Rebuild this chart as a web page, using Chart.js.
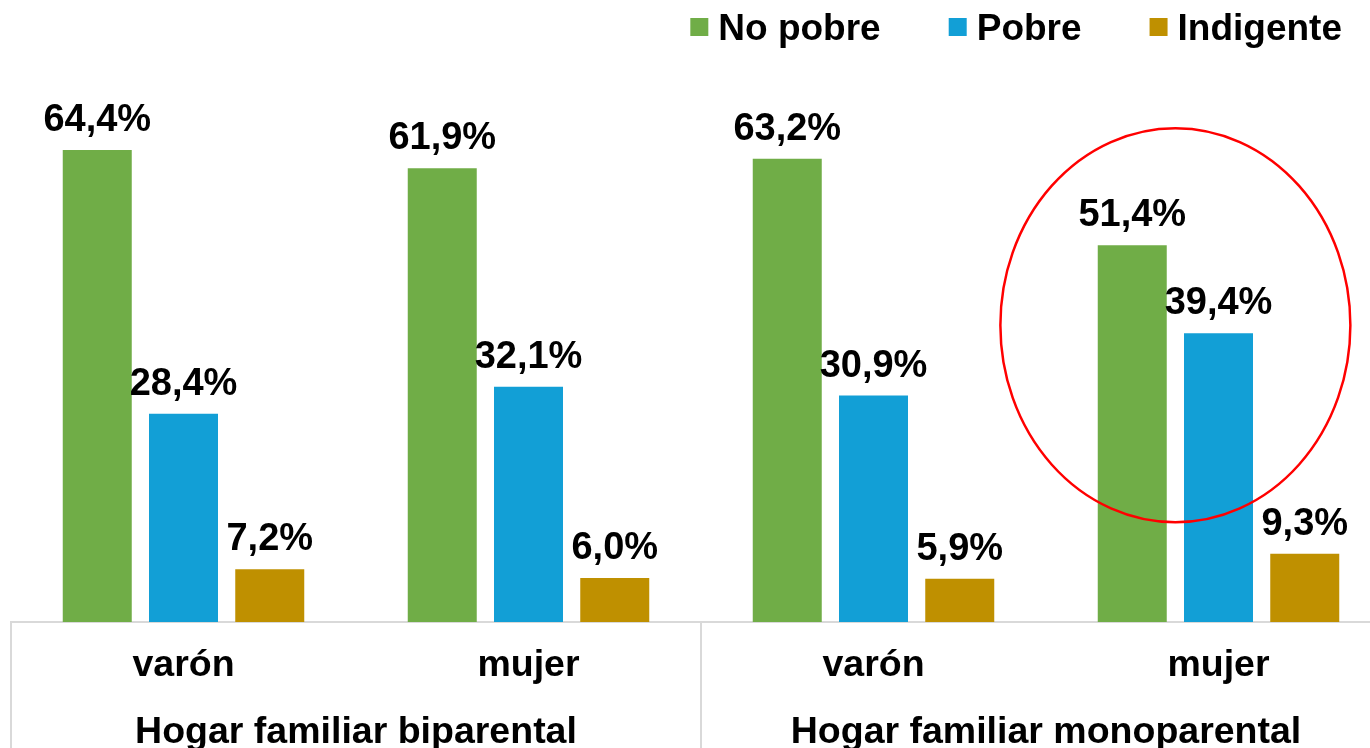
<!DOCTYPE html>
<html>
<head>
<meta charset="utf-8">
<title>Pobreza por tipo de hogar</title>
<script src="https://cdn.jsdelivr.net/npm/chart.js@4.4.1/dist/chart.umd.min.js"></script>
<style>
  html, body { margin: 0; padding: 0; background: #fff; overflow: hidden; }
</style>
</head>
<body>
<canvas id="chart" width="1392" height="748"></canvas>
<script>
// data
const categories = ['varón', 'mujer', 'varón', 'mujer'];
const groups = ['Hogar familiar biparental', 'Hogar familiar monoparental'];
const noPobre = [64.4, 61.9, 63.2, 51.4];
const pobre = [28.4, 32.1, 30.9, 39.4];
const indigente = [7.2, 6.0, 5.9, 9.3];

const FONT = "'Liberation Sans', Arial, sans-serif";

const fmt = v => v.toFixed(1).replace('.', ',') + '%';

// value labels above each bar
const barLabels = {
  id: 'barLabels',
  afterDatasetsDraw(chart) {
    const ctx = chart.ctx;
    ctx.save();
    ctx.font = 'bold 38px ' + FONT;
    ctx.fillStyle = '#000';
    ctx.textAlign = 'center';
    ctx.textBaseline = 'alphabetic';
    chart.data.datasets.forEach((ds, i) => {
      chart.getDatasetMeta(i).data.forEach((bar, j) => {
        ctx.fillText(fmt(ds.data[j]), bar.x, bar.y - 19);
      });
    });
    ctx.restore();
  }
};

// legend in the top right corner (small squares + bold text)
const topLegend = {
  id: 'topLegend',
  afterDraw(chart) {
    const ctx = chart.ctx;
    const box = 18, gap = 10, itemGap = 68;
    ctx.save();
    ctx.font = 'bold 37px ' + FONT;
    ctx.textBaseline = 'alphabetic';
    ctx.textAlign = 'left';
    const items = chart.data.datasets.map(ds => ({
      label: ds.label, color: ds.backgroundColor,
      w: box + gap + ctx.measureText(ds.label).width
    }));
    const total = items.reduce((s, it) => s + it.w, 0) + itemGap * (items.length - 1);
    let x = 1342 - total;
    items.forEach(it => {
      ctx.fillStyle = it.color;
      ctx.fillRect(x, 18, box, box);
      ctx.fillStyle = '#000';
      ctx.fillText(it.label, x + box + gap, 40);
      x += it.w + itemGap;
    });
    ctx.restore();
  }
};

// vertical separators between the two household groups, below the axis
const groupLines = {
  id: 'groupLines',
  afterDraw(chart) {
    const g = chart.scales.group;
    const ctx = chart.ctx;
    const xs = [g.left, (g.getPixelForTick(0) + g.getPixelForTick(1)) / 2, g.right];
    ctx.save();
    ctx.strokeStyle = '#d9d9d9';
    ctx.lineWidth = 2;
    xs.forEach(x => {
      ctx.beginPath();
      ctx.moveTo(x, chart.chartArea.bottom);
      ctx.lineTo(x, chart.height);
      ctx.stroke();
    });
    ctx.restore();
  }
};

// red ellipse highlighting mujer / monoparental
const highlight = {
  id: 'highlight',
  afterDatasetsDraw(chart) {
    const a = chart.getDatasetMeta(0).data[3];
    const b = chart.getDatasetMeta(1).data[3];
    const cx = (a.x + b.x) / 2;
    const cy = chart.scales.y.getPixelForValue(40.5);
    const ctx = chart.ctx;
    ctx.save();
    ctx.strokeStyle = '#ff0000';
    ctx.lineWidth = 2.5;
    ctx.beginPath();
    ctx.ellipse(cx, cy, 175, 197, 0, 0, Math.PI * 2);
    ctx.stroke();
    ctx.restore();
  }
};

new Chart(document.getElementById('chart'), {
  type: 'bar',
  data: {
    labels: categories,
    datasets: [
      { label: 'No pobre', data: noPobre, backgroundColor: '#70ad47' },
      { label: 'Pobre', data: pobre, backgroundColor: '#129fd6' },
      { label: 'Indigente', data: indigente, backgroundColor: '#bf9000' }
    ]
  },
  options: {
    responsive: false,
    animation: false,
    categoryPercentage: 0.75,
    barPercentage: 0.8,
    layout: { padding: { top: 109, left: 11, right: 1, bottom: 0 } },
    plugins: {
      legend: { display: false },
      tooltip: { enabled: false }
    },
    scales: {
      y: {
        display: false,
        min: 0,
        max: 70
      },
      x: {
        grid: { display: false },
        border: { display: true, color: '#d9d9d9', width: 2 },
        ticks: {
          color: '#000',
          font: { family: FONT, size: 37.5, weight: 'bold' },
          padding: 13,
          maxRotation: 0,
          autoSkip: false
        },
        afterFit: s => { s.height = 62; }
      },
      group: {
        type: 'category',
        position: 'bottom',
        labels: groups,
        offset: true,
        grid: { display: false },
        border: { display: false },
        ticks: {
          color: '#000',
          font: { family: FONT, size: 37.5, weight: 'bold' },
          padding: 18,
          maxRotation: 0,
          autoSkip: false
        },
        afterFit: s => { s.height = 64; }
      }
    }
  },
  plugins: [barLabels, highlight, groupLines, topLegend]
});
</script>
</body>
</html>
